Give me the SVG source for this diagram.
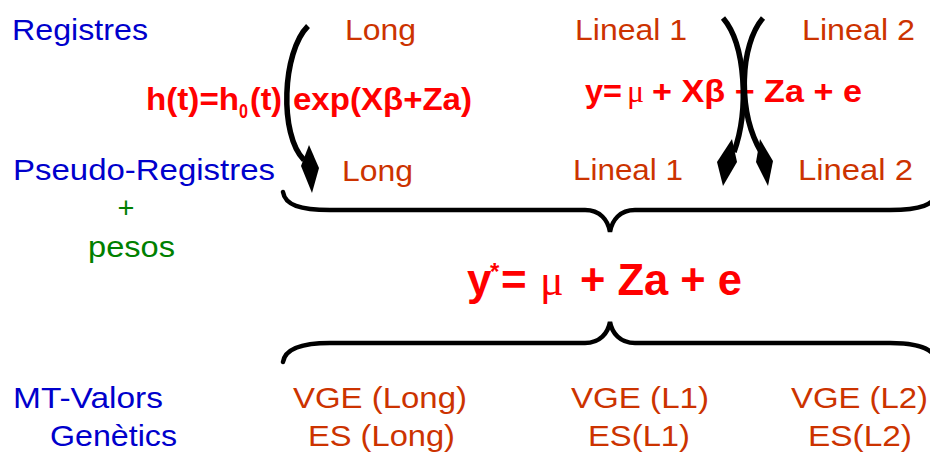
<svg xmlns="http://www.w3.org/2000/svg" width="930" height="452" viewBox="0 0 930 452">
<style>
text{font-family:"Liberation Sans",Arial,sans-serif;}
.lbl{font-size:29px;fill:#0000cc;}
.org{font-size:29px;fill:#cc3300;}
.grn{font-size:29px;fill:#008000;}
.f{font-size:31px;font-weight:bold;fill:#ff0000;}
.big{font-size:44px;font-weight:bold;fill:#ff0000;}
.mu{font-family:"Liberation Serif","DejaVu Serif",serif;font-weight:normal;fill:#ff0000;}
.brace{fill:none;stroke:#000;stroke-width:4.5;stroke-linecap:round;}
.shaft{fill:none;stroke:#000;stroke-width:5.5;}
.head{fill:#000;}
</style>
<rect width="930" height="452" fill="#fff"/>

<g id="registres"><text class="lbl" x="12" y="40" textLength="136" lengthAdjust="spacingAndGlyphs">Registres</text></g>
<g id="pseudo"><text class="lbl" x="13" y="180" textLength="262" lengthAdjust="spacingAndGlyphs">Pseudo-Registres</text>
<text class="grn" x="126" y="218" text-anchor="middle">+</text>
<text class="grn" x="88" y="257" textLength="87" lengthAdjust="spacingAndGlyphs">pesos</text></g>
<g id="mtvalors"><text class="lbl" x="13" y="408" textLength="150" lengthAdjust="spacingAndGlyphs">MT-Valors</text>
<text class="lbl" x="50" y="446" textLength="127" lengthAdjust="spacingAndGlyphs">Genètics</text></g>

<g id="long-top"><text class="org" x="345" y="40" textLength="71" lengthAdjust="spacingAndGlyphs">Long</text></g>
<g id="lineal1-top"><text class="org" x="575" y="40" textLength="112" lengthAdjust="spacingAndGlyphs">Lineal 1</text></g>
<g id="lineal2-top"><text class="org" x="802" y="40" textLength="113" lengthAdjust="spacingAndGlyphs">Lineal 2</text></g>
<g id="long-bot"><text class="org" x="342" y="181" textLength="71" lengthAdjust="spacingAndGlyphs">Long</text></g>
<g id="lineal1-bot"><text class="org" x="573" y="180" textLength="110" lengthAdjust="spacingAndGlyphs">Lineal 1</text></g>
<g id="lineal2-bot"><text class="org" x="798" y="180" textLength="115" lengthAdjust="spacingAndGlyphs">Lineal 2</text></g>

<g id="res-long"><text class="org" x="293" y="408" textLength="174" lengthAdjust="spacingAndGlyphs">VGE (Long)</text>
<text class="org" x="308" y="446" textLength="147" lengthAdjust="spacingAndGlyphs">ES (Long)</text></g>
<g id="res-l1"><text class="org" x="571" y="408" textLength="138" lengthAdjust="spacingAndGlyphs">VGE (L1)</text>
<text class="org" x="588" y="446" textLength="102" lengthAdjust="spacingAndGlyphs">ES(L1)</text></g>
<g id="res-l2"><text class="org" x="791" y="408" textLength="137" lengthAdjust="spacingAndGlyphs">VGE (L2)</text>
<text class="org" x="808" y="446" textLength="104" lengthAdjust="spacingAndGlyphs">ES(L2)</text></g>

<g id="formula-cox">
<text class="f" x="146" y="110" textLength="93" lengthAdjust="spacingAndGlyphs">h(t)=h</text>
<text class="f" x="239" y="118" style="font-size:20px" textLength="9" lengthAdjust="spacingAndGlyphs">0</text>
<text class="f" x="250" y="110" textLength="32" lengthAdjust="spacingAndGlyphs">(t)</text>
<text class="f" x="293" y="110" textLength="179" lengthAdjust="spacingAndGlyphs">exp(Xβ+Za)</text>
</g>
<g id="formula-lin">
<text class="f" x="585" y="102" textLength="37" lengthAdjust="spacingAndGlyphs">y=</text>
<text class="f mu" x="627" y="102" style="font-size:32px">μ</text>
<text class="f" x="652" y="102" textLength="210" lengthAdjust="spacingAndGlyphs">+ Xβ + Za + e</text>
</g>
<g id="formula-mid">
<text class="big" x="467" y="295">y</text>
<text class="f" x="490" y="280" style="font-size:24px">*</text>
<text class="big" x="501" y="295">=</text>
<text class="big mu" x="540" y="295">μ</text>
<text class="big" x="580" y="295" textLength="162" lengthAdjust="spacingAndGlyphs">+ Za + e</text>
</g>

<g id="connectors">
<path class="brace" d="M283,192 C285,205 300,210 330,210 L585,210 C600,210 608,220 610,232 C612,220 620,210 635,210 L890,210 C920,210 935,205 937,192"/>
<path class="brace" d="M283,362 C285,349 300,343 330,343 L585,343 C600,343 608,333 610,322 C612,333 620,343 635,343 L890,343 C920,343 935,349 937,362"/>
<path class="shaft" d="M308,26 C282,52 279,135 304,160"/>
<polygon class="head" points="309,145 319,168 312,193 301,166"/>
<path class="shaft" d="M723,18 C746,45 749,110 734,152"/>
<polygon class="head" points="732,139 737,162 723,186 717,162"/>
<path class="shaft" d="M763,18 C740,45 737,110 761,152"/>
<polygon class="head" points="760,139 773,161 768,186 756,162"/>
</g>
</svg>
